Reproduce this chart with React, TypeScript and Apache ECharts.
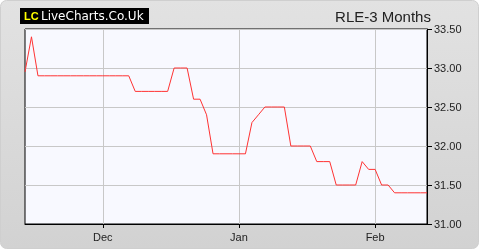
import React, { useEffect, useRef } from "react";
import * as echarts from "echarts";

// Trading-day closing prices (one per trading day, evenly spaced)
const prices: number[] = [
  32.95, 33.4, 32.9, 32.9, 32.9, 32.9, 32.9, 32.9, 32.9, 32.9,
  32.9, 32.9, 32.9, 32.9, 32.9, 32.9, 32.9, 32.7, 32.7, 32.7,
  32.7, 32.7, 32.7, 33.0, 33.0, 33.0, 32.6, 32.6, 32.4, 31.9,
  31.9, 31.9, 31.9, 31.9, 31.9, 32.3, 32.4, 32.5, 32.5, 32.5,
  32.5, 32.0, 32.0, 32.0, 32.0, 31.8, 31.8, 31.8, 31.5, 31.5,
  31.5, 31.5, 31.8, 31.7, 31.7, 31.5, 31.5, 31.4, 31.4, 31.4,
  31.4, 31.4, 31.4,
];

// Month labels at the first trading day of each month (index into prices)
const monthStartIndex: number[] = [12, 33, 54];
const monthNames: string[] = ["Dec", "Jan", "Feb"];

const yMin = 31.0;
const yMax = 33.5;
const yStep = 0.5;

const title = "RLE-3 Months";

export default function App() {
  const ref = useRef<HTMLDivElement>(null);

  useEffect(() => {
    if (!ref.current) return;
    const chart = echarts.init(ref.current, undefined, { renderer: "svg" });
    const categories = prices.map((_, i) => String(i));
    const isMonth = (i: number) => monthStartIndex.indexOf(i) >= 0;
    const font = "Arial, 'Liberation Sans', sans-serif";

    chart.setOption({
      animation: false,
      backgroundColor: "transparent",
      graphic: [
        {
          type: "rect",
          left: 0,
          top: 0,
          shape: { width: 478, height: 248, r: 6 },
          style: {
            fill: new echarts.graphic.LinearGradient(0, 0, 0, 1, [
              { offset: 0, color: "#e2e2e2" },
              { offset: 1, color: "#d2d2d2" },
            ]),
            stroke: "#cfcfcf",
            lineWidth: 1,
          },
          z: -10,
        },
        {
          type: "rect",
          shape: { x: 20, y: 8, width: 129, height: 16 },
          style: { fill: "#000" },
          z: 10,
        },
        {
          type: "text",
          x: 24,
          y: 16,
          style: {
            text: "LC",
            fill: "#ffff00",
            font: "bold 11px Arial, 'Liberation Sans', sans-serif",
            verticalAlign: "middle",
          },
          z: 11,
        },
        {
          type: "text",
          x: 41,
          y: 16,
          style: {
            text: "LiveCharts.Co.Uk",
            fill: "#ffffff",
            font: "12px 'DejaVu Sans', sans-serif",
            verticalAlign: "middle",
          },
          z: 11,
        },
        {
          type: "text",
          x: 383,
          y: 16,
          style: {
            text: title,
            fill: "#222",
            font: "15px Arial, 'Liberation Sans', sans-serif",
            textAlign: "center",
            verticalAlign: "middle",
          },
          z: 11,
        },
      ],
      grid: {
        left: 25,
        top: 29,
        right: 53,
        bottom: 26,
        show: true,
        backgroundColor: "#f8f9ff",
        borderColor: "#000",
        borderWidth: 1,
        containLabel: false,
      },
      xAxis: {
        type: "category",
        data: categories,
        boundaryGap: false,
        axisLine: { show: true, lineStyle: { color: "#000", width: 1 } },
        axisTick: {
          show: true,
          length: 4,
          interval: (i: number) => isMonth(i),
          lineStyle: { color: "#000" },
        },
        axisLabel: {
          interval: (i: number) => isMonth(i),
          formatter: (_v: string, i: number) => {
            const k = monthStartIndex.indexOf(i);
            return k >= 0 ? monthNames[k] : "";
          },
          color: "#222",
          fontSize: 11,
          fontFamily: font,
          margin: 7,
        },
        splitLine: {
          show: true,
          interval: (i: number) => isMonth(i),
          lineStyle: { color: "#c8c8c8", width: 1 },
        },
      },
      yAxis: {
        type: "value",
        position: "right",
        min: yMin,
        max: yMax,
        interval: yStep,
        axisLine: { show: true, lineStyle: { color: "#000", width: 1 } },
        axisTick: { show: true, length: 5, lineStyle: { color: "#000" } },
        axisLabel: {
          formatter: (v: number) => v.toFixed(2),
          color: "#222",
          fontSize: 11,
          fontFamily: font,
          margin: 7,
        },
        splitLine: { show: true, lineStyle: { color: "#c8c8c8", width: 1 } },
      },
      series: [
        {
          type: "line",
          data: prices,
          symbol: "none",
          lineStyle: { color: "#ff3333", width: 1 },
          itemStyle: { color: "#ff3333" },
        },
      ],
    });

    return () => chart.dispose();
  }, []);

  return (
    <div
      ref={ref}
      style={{ position: "fixed", left: 0, top: 0, width: 480, height: 250 }}
    />
  );
}
